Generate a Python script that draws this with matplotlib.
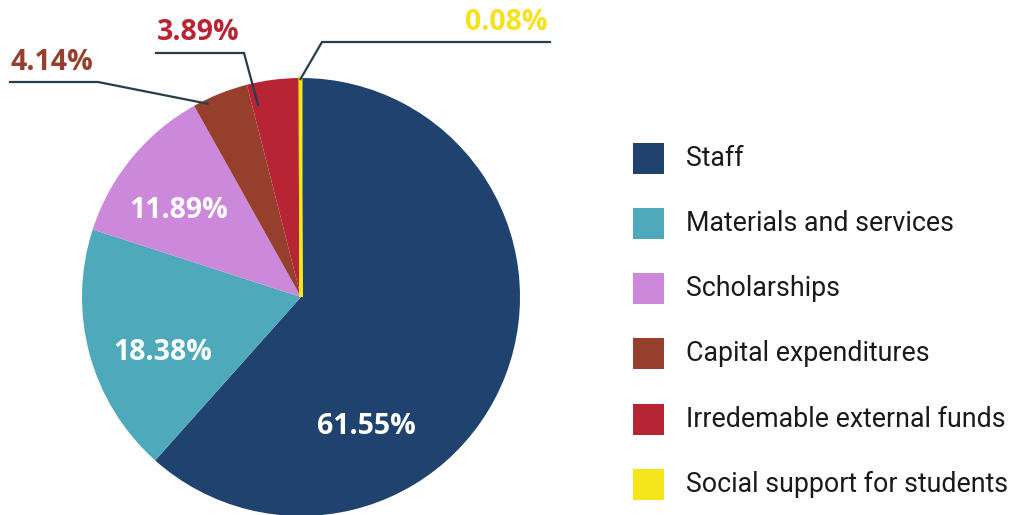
import numpy as np
import matplotlib
matplotlib.use("Agg")
import matplotlib.pyplot as plt
from matplotlib.patches import Rectangle

# Budget shares (%)
categories = ["Staff", "Materials and services", "Scholarships",
              "Capital expenditures", "Irredemable external funds",
              "Social support for students"]
shares = [61.55, 18.38, 11.89, 4.14, 3.89, 0.08]
share_labels = ["61.55%", "18.38%", "11.89%", "4.14%", "3.89%", "0.08%"]
colors = ["#1f426f", "#4eaabb", "#cc88da", "#953f2c", "#b72535", "#f7e51c"]

W, H = 1022, 515
fig = plt.figure(figsize=(W / 100, H / 100), dpi=100)
ax = fig.add_axes([0, 0, 1, 1])

# pie geometry in pixel space (y measured from bottom)
cx, cy, R = 301, H - 297, 219

wedges, _ = ax.pie(shares, colors=colors, startangle=90, counterclock=False,
                   center=(cx, cy), radius=R,
                   wedgeprops=dict(linewidth=0))
# keep the tiny slice visible
wedges[-1].set_edgecolor(colors[-1])
wedges[-1].set_linewidth(2.2)

ax.set_xlim(0, W)
ax.set_ylim(0, H)
ax.set_aspect("equal")
ax.axis("off")

LABEL_FONT = "Open Sans"
LEGEND_FONT = "Roboto"

def top(y):
    return H - y

# values written inside the large slices
inside_pos = {0: (366, 426), 1: (163, 353), 2: (179, 211)}
for i, (x, y) in inside_pos.items():
    ax.text(x, top(y), share_labels[i], color="white", fontsize=20.5,
            fontweight="bold", family=LABEL_FONT,
            ha="center", va="center")

# angles of each wedge (degrees), clockwise from the top
total = sum(shares)
edges = 90 - 360 * np.concatenate([[0], np.cumsum(shares)]) / total

def anchor(i, frac, rfrac):
    a = np.deg2rad(edges[i] + frac * (edges[i + 1] - edges[i]))
    return cx + rfrac * R * np.cos(a), cy + rfrac * R * np.sin(a)

line_col = "#263d4a"
# leader lines for the small slices: (index, position in wedge, radius frac,
# elbow point, end of horizontal, label position, label alignment)
callouts = [
    (3, 0.23, 0.98, (98, 82), (10, 82), (10, 62), "left"),
    (4, 0.12, 0.90, (244, 53), (156, 53), (157, 33), "left"),
    (5, 0.50, 0.995, (322, 42), (550, 42), (548, 22), "right"),
]
label_colors = {3: colors[3], 4: colors[4], 5: "#f5e11c"}
for i, frac, rf, elbow, end, lpos, ha in callouts:
    x0, y0 = anchor(i, frac, rf)
    ax.plot([x0, elbow[0], end[0]], [y0, top(elbow[1]), top(end[1])],
            color=line_col, lw=1.6, solid_joinstyle="miter")
    ax.text(lpos[0], top(lpos[1]), share_labels[i], color=label_colors[i],
            fontsize=20.5, fontweight="bold", family=LABEL_FONT,
            ha=ha, va="center")

# legend
leg_x, leg_y0, leg_dy, box = 633, 158, 65.3, 31
for k, (name, c) in enumerate(zip(categories, colors)):
    yc = leg_y0 + k * leg_dy
    ax.add_patch(Rectangle((leg_x, top(yc) - box / 2), box, box,
                           facecolor=c, edgecolor="none"))
    ax.text(686, top(yc), name, fontsize=19.3, family=LEGEND_FONT,
            color="#1a1a1a", ha="left", va="center")

fig.savefig("out.png", dpi=100, facecolor="white")
